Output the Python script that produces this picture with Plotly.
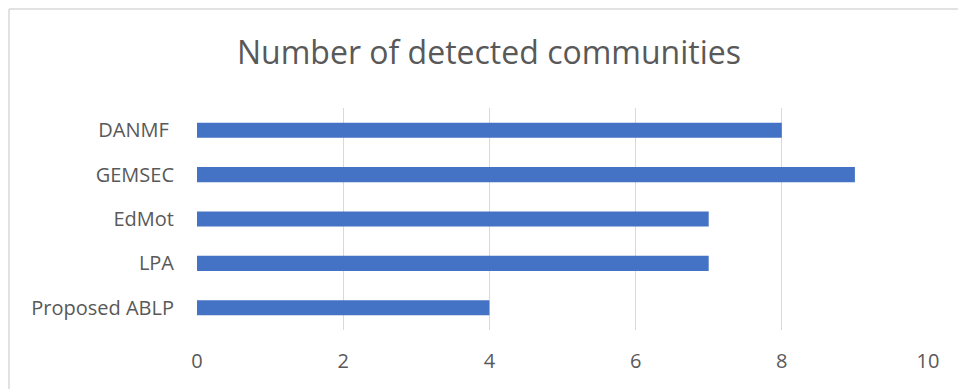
import plotly.graph_objects as go

categories = ["Proposed ABLP", "LPA", "EdMot", "GEMSEC", "DANMF "]
values = [4, 7, 7, 9, 8]
x_ticks = [0, 2, 4, 6, 8, 10]
title_text = "Number of detected communities"

W, H = 958, 389
ml, mr, mt, mb = 197, 30, 108, 59

fig = go.Figure(
    go.Bar(
        y=categories,
        x=values,
        orientation="h",
        marker=dict(color="#4472C4", line=dict(width=0)),
        width=0.34,
    )
)

fig.update_layout(
    width=W,
    height=H,
    margin=dict(l=ml, r=mr, t=mt, b=mb),
    paper_bgcolor="white",
    plot_bgcolor="white",
    showlegend=False,
    title=dict(
        text=title_text,
        x=489 / W,
        xref="container",
        xanchor="center",
        y=1 - 53 / H,
        yref="container",
        yanchor="middle",
        font=dict(family="Open Sans", size=32, color="#595959"),
    ),
    font=dict(family="Open Sans", size=20, color="#595959"),
)

fig.update_xaxes(
    range=[0, 10],
    tickvals=x_ticks,
    showgrid=True,
    gridcolor="#d9d9d9",
    gridwidth=1,
    zeroline=False,
    showline=False,
    ticklabelstandoff=17,
    tickfont=dict(size=20, color="#595959"),
    fixedrange=True,
)
fig.update_yaxes(
    showgrid=False,
    zeroline=False,
    showline=False,
    ticklabelstandoff=22,
    tickfont=dict(size=20, color="#595959"),
    fixedrange=True,
)

# outer chart border (as in the reference)
x0 = (9 - ml) / (W - ml - mr)
y1 = 1 + (mt - 9) / (H - mt - mb)
fig.add_shape(type="line", xref="paper", yref="paper", x0=x0, x1=x0, y0=-1, y1=y1,
              line=dict(color="#d9d9d9", width=1.5))
fig.add_shape(type="line", xref="paper", yref="paper", x0=x0, x1=2, y0=y1, y1=y1,
              line=dict(color="#d9d9d9", width=1.5))

fig.write_html("out.html")
